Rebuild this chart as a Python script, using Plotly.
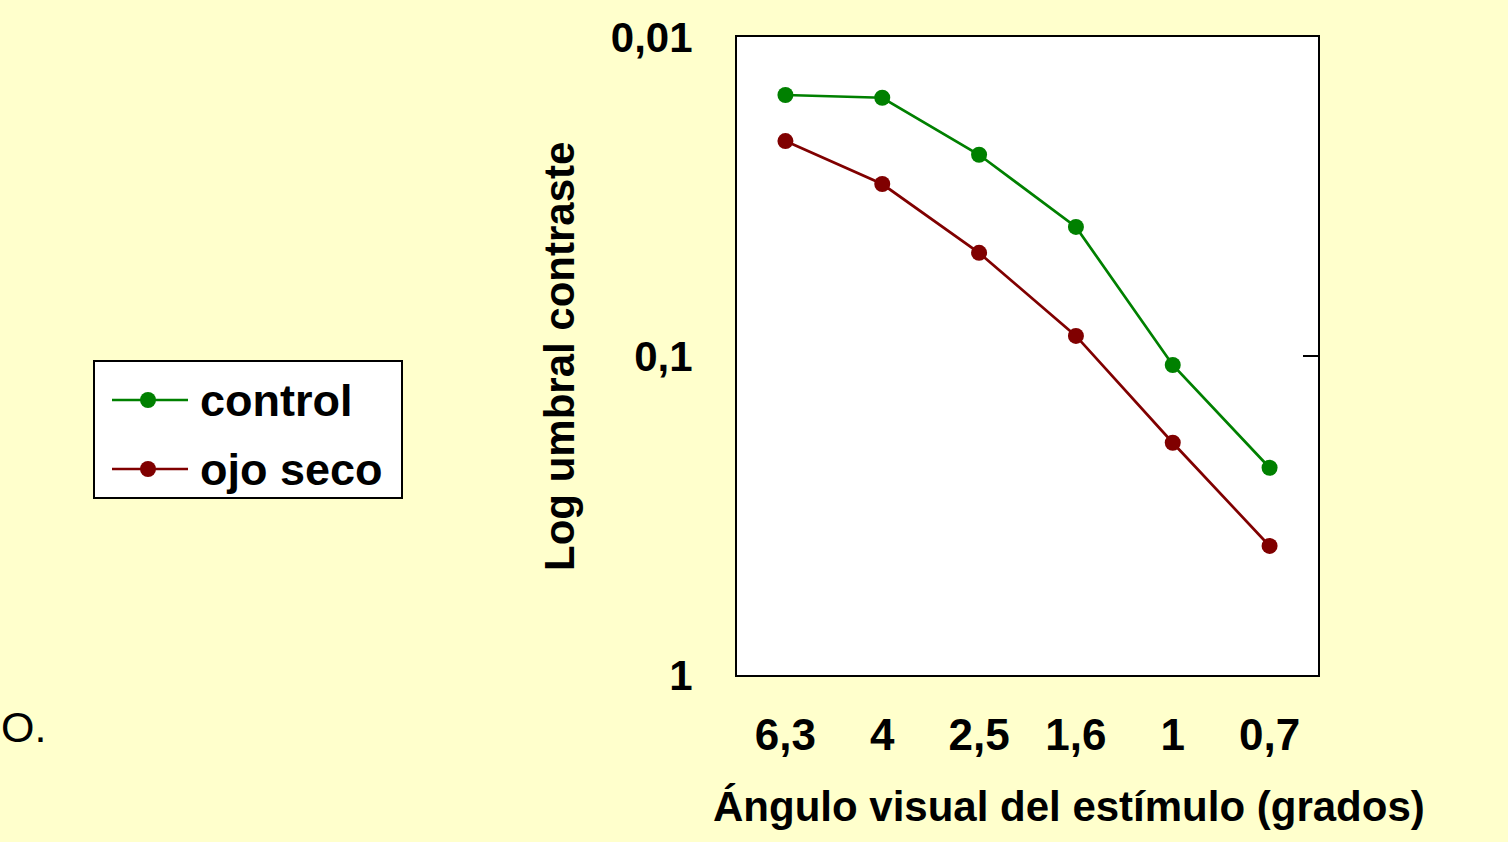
import plotly.graph_objects as go

angles = ["6,3", "4", "2,5", "1,6", "1", "0,7"]
control = [0.0152, 0.0155, 0.0234, 0.0394, 0.1067, 0.224]
ojo_seco = [0.0212, 0.0289, 0.0475, 0.0865, 0.187, 0.394]
y_tickvals = [0.01, 0.1, 1]
y_ticktext = ["0,01", "0,1", "1"]
series_names = ["control", "ojo seco"]
colors = ["#008000", "#800000"]

W, H = 1508, 842
L, R, T, B = 737, 1318, 37, 675

def px(x):
    return (x - L) / (R - L)

def py(y):
    return (B - y) / (B - T)

FONT = "Liberation Sans, Arial, sans-serif"
BG = "#FFFFCC"

fig = go.Figure()
for name, vals, col in zip(series_names, [control, ojo_seco], colors):
    fig.add_trace(go.Scatter(
        x=angles, y=vals, mode="lines+markers", name=name,
        line=dict(color=col, width=2.7),
        marker=dict(color=col, size=16),
        showlegend=False,
    ))

fig.update_layout(
    width=W, height=H,
    margin=dict(l=L, r=W - R, t=T, b=H - B, pad=0),
    paper_bgcolor=BG, plot_bgcolor="white",
    font=dict(family=FONT, size=42, color="black", weight=700),
    xaxis=dict(
        type="category", range=[-0.5, len(angles) - 0.5],
        showgrid=False, zeroline=False,
        showline=True, linecolor="black", linewidth=2, mirror=True,
        ticks="", ticklabelstandoff=20,
        tickfont=dict(family=FONT, size=44, weight=700),
    ),
    yaxis=dict(
        type="log", range=[0, -2], showgrid=False, zeroline=False,
        showline=True, linecolor="black", linewidth=2, mirror=True,
        tickvals=y_tickvals, ticktext=y_ticktext, ticks="",
        ticklabelstandoff=34,
        tickfont=dict(family=FONT, size=42, weight=700),
    ),
)

# right-side inner tick at 0.1
fig.add_shape(type="line", xref="paper", yref="y",
              x0=px(1303), x1=1, y0=0.1, y1=0.1,
              line=dict(color="black", width=2))

# axis titles
fig.add_annotation(text="Ángulo visual del estímulo (grados)", xref="paper", yref="paper",
                   x=px(1069), y=py(806), showarrow=False, xanchor="center", yanchor="middle",
                   font=dict(family=FONT, size=42, weight=700))
fig.add_annotation(text="Log umbral contraste", xref="paper", yref="paper",
                   x=px(560), y=py(357), showarrow=False, textangle=-90,
                   xanchor="center", yanchor="middle",
                   font=dict(family=FONT, size=42, weight=700))

# manual legend
fig.add_shape(type="rect", xref="paper", yref="paper",
              x0=px(94), x1=px(402), y0=py(361), y1=py(498),
              fillcolor="white", line=dict(color="black", width=2), layer="above")
for i, (name, col) in enumerate(zip(series_names, colors)):
    yy = 400 + i * 69
    fig.add_shape(type="line", xref="paper", yref="paper",
                  x0=px(112), x1=px(188), y0=py(yy), y1=py(yy),
                  line=dict(color=col, width=2.7), layer="above")
    fig.add_shape(type="circle", xref="paper", yref="paper",
                  x0=px(140), x1=px(156), y0=py(yy - 8), y1=py(yy + 8),
                  fillcolor=col, line=dict(color=col, width=0), layer="above")
    fig.add_annotation(text=name, xref="paper", yref="paper",
                       x=px(198), y=py(yy), showarrow=False,
                       xanchor="left", yanchor="middle",
                       font=dict(family=FONT, size=45, weight=700))

# partial text at lower left
fig.add_annotation(text="O.", xref="paper", yref="paper",
                   x=px(48), y=py(727), showarrow=False,
                   xanchor="right", yanchor="middle",
                   font=dict(family=FONT, size=43, weight=400))

fig.write_html("out.html")
